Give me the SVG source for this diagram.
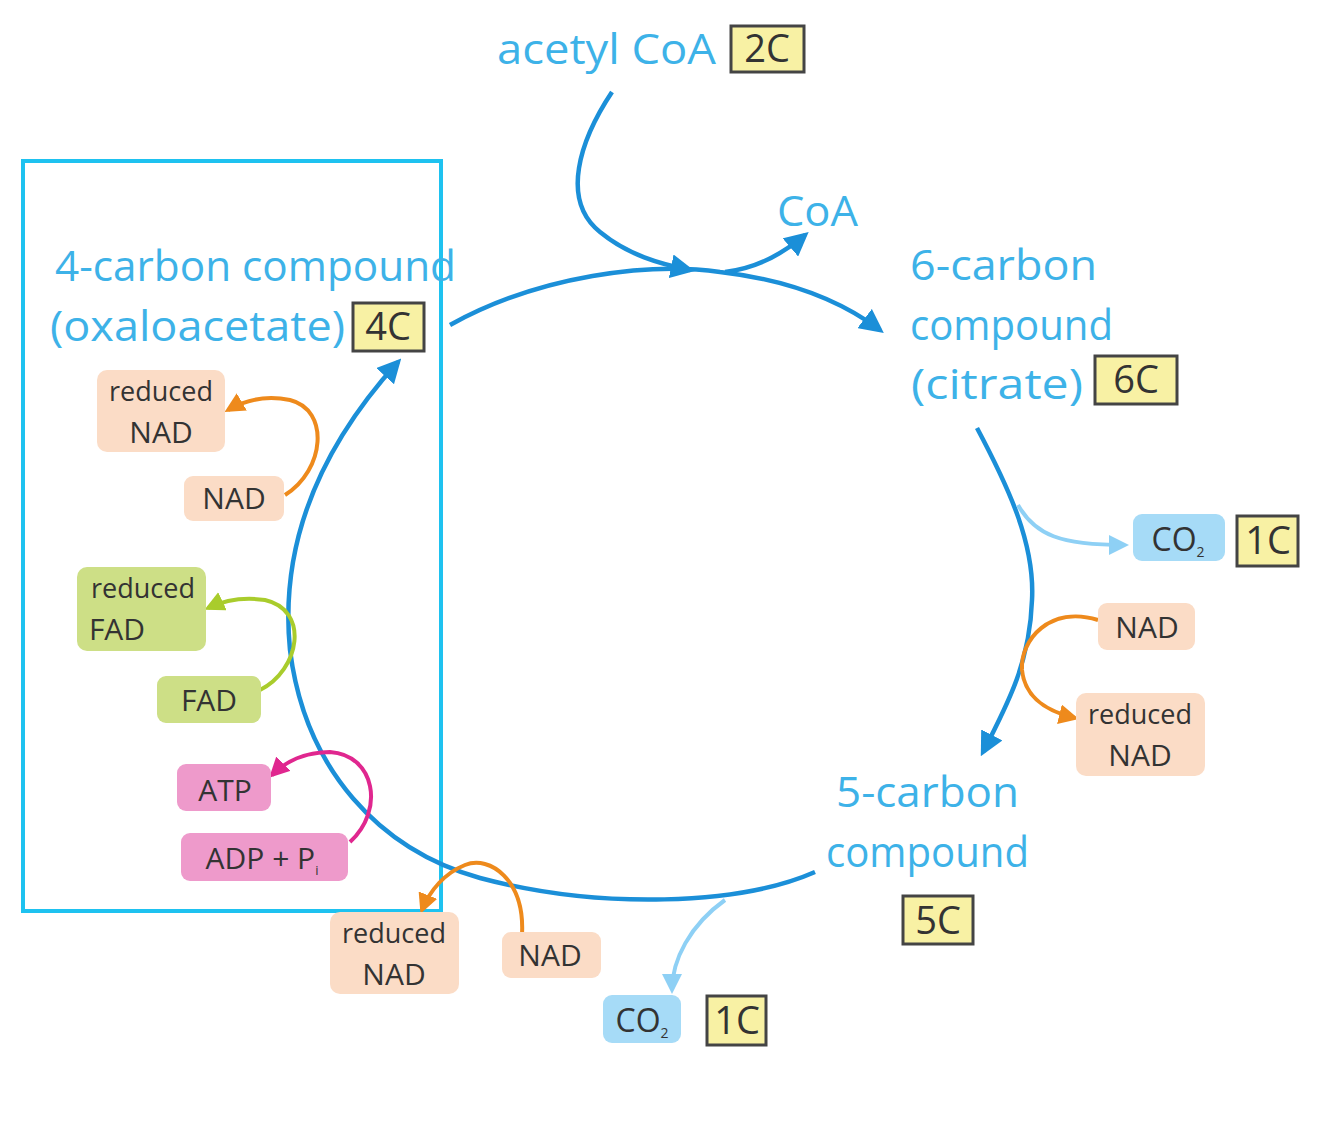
<svg xmlns="http://www.w3.org/2000/svg" width="1334" height="1147" viewBox="0 0 1334 1147">
<style>
.lbl{font-family:"Open Sans","DejaVu Sans",sans-serif;fill:#3db2e8;font-size:42px}
.bx{font-family:"Open Sans","DejaVu Sans",sans-serif;fill:#333;font-size:30px;text-anchor:middle}
.sm{font-size:27px}
.yc{fill:#f8f1a4;stroke:#444;stroke-width:3}
.nad{fill:#fbdcc6}
.fad{fill:#cddf86}
.atp{fill:#ee9acb}
.co2{fill:#a6dbf7}
.main{fill:none;stroke:#1b8fd8;stroke-width:4.5}
.or{fill:none;stroke:#ee8a1c;stroke-width:4}
.gr{fill:none;stroke:#a9cc2c;stroke-width:4}
.pk{fill:none;stroke:#e0278f;stroke-width:4}
.lb{fill:none;stroke:#8ed0f5;stroke-width:4}
</style>
<defs>
<marker id="mb" viewBox="0 0 10 10" refX="8" refY="5" markerWidth="24" markerHeight="24" markerUnits="userSpaceOnUse" orient="auto"><path d="M0,0 L10,5 L0,10 z" fill="#1b8fd8"/></marker>
<marker id="mo" viewBox="0 0 10 10" refX="8" refY="5" markerWidth="20" markerHeight="20" markerUnits="userSpaceOnUse" orient="auto"><path d="M0,0 L10,5 L0,10 z" fill="#ee8a1c"/></marker>
<marker id="mg" viewBox="0 0 10 10" refX="8" refY="5" markerWidth="20" markerHeight="20" markerUnits="userSpaceOnUse" orient="auto"><path d="M0,0 L10,5 L0,10 z" fill="#a9cc2c"/></marker>
<marker id="mp" viewBox="0 0 10 10" refX="8" refY="5" markerWidth="20" markerHeight="20" markerUnits="userSpaceOnUse" orient="auto"><path d="M0,0 L10,5 L0,10 z" fill="#e0278f"/></marker>
<marker id="ml" viewBox="0 0 10 10" refX="8" refY="5" markerWidth="20" markerHeight="20" markerUnits="userSpaceOnUse" orient="auto"><path d="M0,0 L10,5 L0,10 z" fill="#8ed0f5"/></marker>
</defs>

<rect x="23" y="161" width="418" height="750" fill="none" stroke="#1ec2f0" stroke-width="4"/>

<g id="connectors">
<path class="main" d="M450,325 C540,275 650,262 720,272 C790,280 840,300 880,330" marker-end="url(#mb)"/>
<path class="main" d="M612,92 C580,140 560,200 600,232 C628,255 660,264 690,270" marker-end="url(#mb)"/>
<path class="main" d="M725,272 C760,268 785,252 805,235" marker-end="url(#mb)"/>
<path class="main" d="M977,428 C1010,490 1035,545 1032,600 C1030,660 1010,700 983,752" marker-end="url(#mb)"/>
<path class="lb" d="M1018,505 C1035,535 1060,545 1125,545" marker-end="url(#ml)"/>
<path class="main" d="M815,872 C740,905 600,910 480,878 C380,850 305,770 290,650 C282,570 300,470 398,362" marker-end="url(#mb)"/>
<path class="lb" d="M725,900 C690,925 672,960 672,990" marker-end="url(#ml)"/>
<path class="or" d="M285,495 C325,470 330,410 290,400 C265,395 245,400 228,410" marker-end="url(#mo)"/>
<path class="gr" d="M260,690 C300,670 310,610 265,600 C245,597 225,600 208,608" marker-end="url(#mg)"/>
<path class="pk" d="M350,842 C385,810 375,755 330,752 C305,752 285,762 272,775" marker-end="url(#mp)"/>
<path class="or" d="M522,935 C525,880 490,855 465,865 C445,873 430,890 422,910" marker-end="url(#mo)"/>
<path class="or" d="M1098,620 C1050,605 1020,640 1022,670 C1025,700 1050,712 1075,718" marker-end="url(#mo)"/>
</g>

<g id="acetylcoa"><text class="lbl" x="497" y="64" textLength="219" lengthAdjust="spacingAndGlyphs">acetyl CoA</text>
<rect class="yc" x="731" y="26" width="73" height="46"/><text class="bx" x="767" y="62" style="font-size:38px">2C</text></g>
<g id="coa"><text class="lbl" x="777" y="226" textLength="81" lengthAdjust="spacingAndGlyphs">CoA</text></g>
<g id="citrate"><text class="lbl" x="910" y="280" textLength="187" lengthAdjust="spacingAndGlyphs">6-carbon</text><text class="lbl" x="910" y="340" textLength="203" lengthAdjust="spacingAndGlyphs">compound</text><text class="lbl" x="911" y="399" textLength="172" lengthAdjust="spacingAndGlyphs">(citrate)</text>
<rect class="yc" x="1095" y="356" width="82" height="48"/><text class="bx" x="1136" y="393" style="font-size:38px">6C</text></g>
<g id="oxaloacetate"><text class="lbl" x="55" y="281" textLength="401" lengthAdjust="spacingAndGlyphs">4-carbon compound</text><text class="lbl" x="50" y="341" textLength="295" lengthAdjust="spacingAndGlyphs">(oxaloacetate)</text>
<rect class="yc" x="353" y="303" width="71" height="48"/><text class="bx" x="388" y="340" style="font-size:38px">4C</text></g>
<g id="fivecarbon"><text class="lbl" x="836" y="807" textLength="183" lengthAdjust="spacingAndGlyphs">5-carbon</text><text class="lbl" x="826" y="867" textLength="203" lengthAdjust="spacingAndGlyphs">compound</text>
<rect class="yc" x="903" y="896" width="70" height="48"/><text class="bx" x="938" y="934" style="font-size:38px">5C</text></g>

<g id="co2a"><rect class="co2" x="1133" y="514" width="92" height="47" rx="9"/><text class="bx" x="1178" y="551" style="font-size:32px">CO<tspan dy="6" style="font-size:14px">2</tspan></text>
<rect class="yc" x="1237" y="516" width="61" height="50"/><text class="bx" x="1268" y="554" style="font-size:38px">1C</text></g>
<g id="co2b"><rect class="co2" x="603" y="995" width="78" height="48" rx="9"/><text class="bx" x="642" y="1032" style="font-size:32px">CO<tspan dy="6" style="font-size:14px">2</tspan></text>
<rect class="yc" x="707" y="996" width="59" height="49"/><text class="bx" x="737" y="1034" style="font-size:38px">1C</text></g>

<g id="rnad1"><rect class="nad" x="97" y="370" width="128" height="82" rx="10"/><text class="bx sm" x="161" y="401">reduced</text><text class="bx" x="161" y="443">NAD</text></g>
<g id="nad1"><rect class="nad" x="184" y="476" width="100" height="45" rx="9"/><text class="bx" x="234" y="509">NAD</text></g>
<g id="rfad"><rect class="fad" x="77" y="567" width="129" height="84" rx="10"/><text class="bx sm" x="143" y="598">reduced</text><text class="bx" x="117" y="640">FAD</text></g>
<g id="fad"><rect class="fad" x="157" y="676" width="104" height="47" rx="9"/><text class="bx" x="209" y="711">FAD</text></g>
<g id="atp"><rect class="atp" x="177" y="764" width="94" height="47" rx="9"/><text class="bx" x="225" y="801">ATP</text></g>
<g id="adp"><rect class="atp" x="181" y="833" width="167" height="48" rx="9"/><text class="bx" x="262" y="869">ADP + P<tspan dy="6" style="font-size:13px">i</tspan></text></g>
<g id="rnad2"><rect class="nad" x="330" y="912" width="129" height="82" rx="10"/><text class="bx sm" x="394" y="943">reduced</text><text class="bx" x="394" y="985">NAD</text></g>
<g id="nad2"><rect class="nad" x="502" y="932" width="99" height="46" rx="9"/><text class="bx" x="550" y="966">NAD</text></g>
<g id="nad3"><rect class="nad" x="1098" y="603" width="97" height="47" rx="9"/><text class="bx" x="1147" y="638">NAD</text></g>
<g id="rnad3"><rect class="nad" x="1076" y="693" width="129" height="83" rx="10"/><text class="bx sm" x="1140" y="724">reduced</text><text class="bx" x="1140" y="766">NAD</text></g>
</svg>
